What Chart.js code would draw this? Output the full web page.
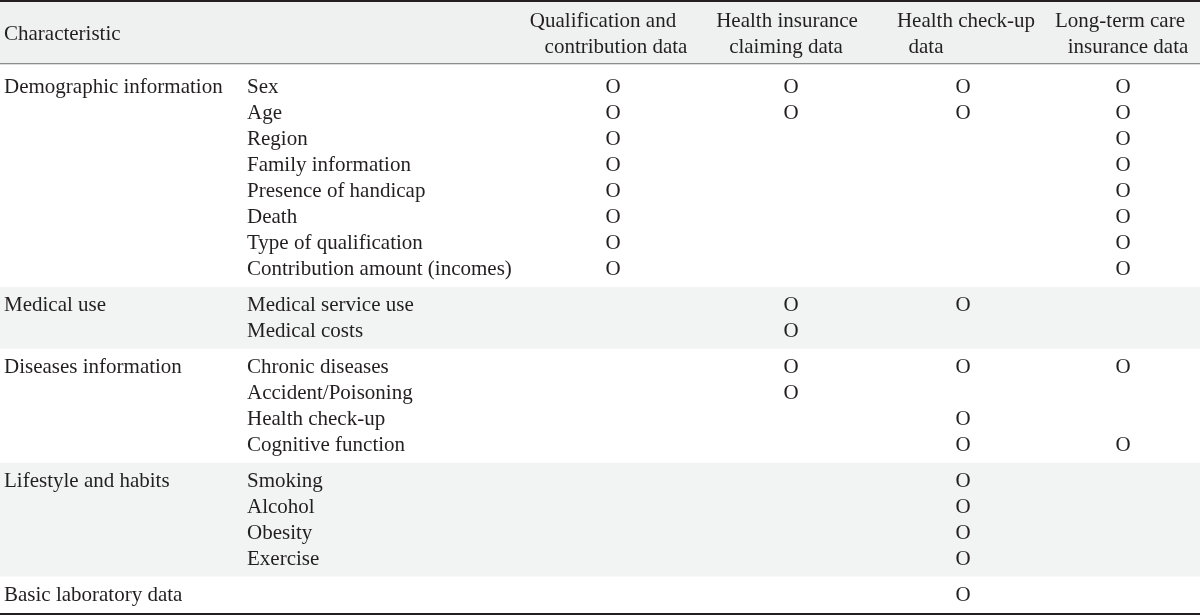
<!DOCTYPE html>
<html>
<head>
<meta charset="utf-8">
<script src="https://cdn.jsdelivr.net/npm/chart.js@4"></script>
<style>
  html, body { margin: 0; padding: 0; background: #fff; }
  #wrap { width: 1200px; height: 616px; }
</style>
</head>
<body>
<div id="wrap"><canvas id="table-chart" width="1200" height="616"></canvas></div>
<script>
// ---- data ----
const headerLabel = 'Characteristic';
const groups = ['Demographic information', 'Medical use', 'Diseases information', 'Lifestyle and habits', 'Basic laboratory data'];
const groupItems = [
    ['Sex', 'Age', 'Region', 'Family information', 'Presence of handicap', 'Death', 'Type of qualification', 'Contribution amount (incomes)'],
    ['Medical service use', 'Medical costs'],
    ['Chronic diseases', 'Accident/Poisoning', 'Health check-up', 'Cognitive function'],
    ['Smoking', 'Alcohol', 'Obesity', 'Exercise'],
    ['']
];
const columns = [
    ['Qualification and', 'contribution data'],
    ['Health insurance', 'claiming data'],
    ['Health check-up', 'data'],
    ['Long-term care', 'insurance data']
];
// 1 = data source holds that item (one entry per row, top to bottom)
const qualificationMarks = [1, 1, 1, 1, 1, 1, 1, 1, 0, 0, 0, 0, 0, 0, 0, 0, 0, 0, 0];
const claimingMarks      = [1, 1, 0, 0, 0, 0, 0, 0, 1, 1, 1, 1, 0, 0, 0, 0, 0, 0, 0];
const checkupMarks       = [1, 1, 0, 0, 0, 0, 0, 0, 1, 0, 1, 0, 1, 1, 1, 1, 1, 1, 1];
const longTermCareMarks  = [1, 1, 1, 1, 1, 1, 1, 1, 0, 0, 1, 0, 0, 1, 0, 0, 0, 0, 0];
const markSeries = [qualificationMarks, claimingMarks, checkupMarks, longTermCareMarks];

// ---- layout ----
const FONT = '21px "Liberation Serif", "DejaVu Serif", serif';
const INK = '#231f20';
const SHADE = '#f2f4f4';
const COL_X = [613, 791, 963, 1123];             // column centres (x scale = px)
const HEAD_X = [[603, 616], [787, 786], [966, 926], [1120, 1128]];
const TOP_GAP = 0.27, PAD = 0.19;               // in row units

// row positions in row units
const rowY = [];
const bands = [];
let cursor = TOP_GAP;
groupItems.forEach((items, gi) => {
    const start = gi === 0 ? 0 : cursor;
    items.forEach((_, i) => rowY.push(cursor + PAD + 0.5 + i));
    cursor = cursor + 2 * PAD + items.length;
    bands.push({ start, end: cursor, shaded: gi % 2 === 1, first: rowY.length - items.length });
});

const datasets = markSeries.map((marks, c) => ({
    label: columns[c].join(' '),
    data: marks.map((m, r) => m ? { x: COL_X[c], y: rowY[r] } : null).filter(Boolean),
    pointRadius: 0,
    pointHoverRadius: 0
}));

const tablePlugin = {
    id: 'tablePlugin',
    beforeDatasetsDraw(chart) {
        const { ctx, chartArea, scales: { x, y } } = chart;
        const left = x.getPixelForValue(0), right = x.getPixelForValue(1200);
        ctx.save();
        // header background
        ctx.fillStyle = '#eff1f1';
        ctx.fillRect(left, 2, right - left, chartArea.top + 1 - 2);
        // shaded bands
        bands.forEach(b => {
            if (!b.shaded) return;
            const top = y.getPixelForValue(b.start), bot = y.getPixelForValue(b.end);
            ctx.fillStyle = SHADE;
            ctx.fillRect(left, top, right - left, bot - top);
        });
        // rules
        ctx.fillStyle = INK;
        ctx.fillRect(left, 0, right - left, 2);
        ctx.fillStyle = '#8c8c8c';
        ctx.fillRect(left, chartArea.top + 1, right - left, 1.3);
        ctx.fillStyle = INK;
        ctx.fillRect(left, chartArea.bottom - 1, right - left, 2);

        // header text
        ctx.font = FONT;
        ctx.fillStyle = INK;
        ctx.textBaseline = 'alphabetic';
        ctx.textAlign = 'left';
        ctx.fillText(headerLabel, 4, 40);
        ctx.textAlign = 'center';
        columns.forEach((lines, c) => {
            lines.forEach((t, li) => ctx.fillText(t, HEAD_X[c][li], 27 + li * 26));
        });

        // row labels
        ctx.textAlign = 'left';
        groups.forEach((g, gi) => {
            const first = bands[gi].first;
            ctx.fillText(g, 4, y.getPixelForValue(rowY[first]) + 6.5);
            groupItems[gi].forEach((item, i) => {
                ctx.fillText(item, 247, y.getPixelForValue(rowY[first + i]) + 6.5);
            });
        });
        ctx.restore();
    },
    afterDatasetsDraw(chart) {
        const { ctx } = chart;
        ctx.save();
        ctx.font = FONT;
        ctx.fillStyle = INK;
        ctx.textAlign = 'center';
        ctx.textBaseline = 'alphabetic';
        chart.data.datasets.forEach((ds, i) => {
            chart.getDatasetMeta(i).data.forEach(pt => {
                ctx.fillText('O', pt.x, pt.y + 6.5);
            });
        });
        ctx.restore();
    }
};

new Chart('table-chart', {
    type: 'scatter',
    data: { datasets },
    options: {
        responsive: false,
        animation: false,
        devicePixelRatio: 1,
        layout: { padding: { top: 62, bottom: 2, left: 0, right: 0 } },
        plugins: { legend: { display: false }, tooltip: { enabled: false } },
        scales: {
            x: { type: 'linear', min: 0, max: 1200, display: false },
            y: { type: 'linear', min: 0, max: 552 / 26, reverse: true, display: false }
        }
    },
    plugins: [tablePlugin]
});
</script>
</body>
</html>
